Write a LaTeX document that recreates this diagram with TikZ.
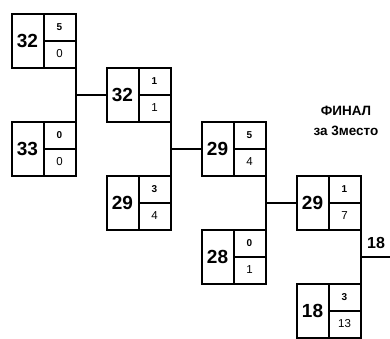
\documentclass[tikz,border=0pt]{standalone}
\usepackage{fontspec}
\setmainfont{Liberation Sans}
\usetikzlibrary{positioning, calc}

\tikzset{
  matchbox/.style={draw, line width=2pt, minimum width=64pt, minimum height=54pt, inner sep=0pt, outer sep=0pt},
  bracket/.style={line width=2pt},
  score/.style={font=\bfseries\fontsize{19}{19}\selectfont, inner sep=0pt},
  seed/.style={font=\bfseries\fontsize{10}{10}\selectfont, inner sep=0pt},
  pts/.style={font=\fontsize{11.5}{11.5}\selectfont, inner sep=0pt}
}

\begin{document}
\begin{tikzpicture}[x=1pt, y=-1pt]
  \useasboundingbox (0,0) rectangle (390,338);
  % boxes: name/x/y/score/upper/lower
  \foreach \nm/\x/\y/\sc/\up/\dn in {s1/43.5/40.5/32/5/0, s2/43.5/148.5/33/0/0,
      s3/138.5/94.5/32/1/1, s4/138.5/202.5/29/3/4,
      s5/233.5/148.5/29/5/4, s6/233.5/256.5/28/0/1,
      s7/328.5/202.5/29/1/7, s8/328.5/310.5/18/3/13} {
    \node[matchbox] (\nm) at (\x,\y) {};
    \draw[bracket] ($(\nm.north west)+(32,0)$) -- ($(\nm.south west)+(32,0)$);
    \draw[bracket] ($(\nm.west)+(32,0)$) -- (\nm.east);
    \node[score] (\nm-sc) at ($(\nm.west)+(16,0)$) {\sc};
    \node[seed] (\nm-up) at ($(\nm.east)+(-16,-13.5)$) {\up};
    \node[pts] (\nm-dn) at ($(\nm.east)+(-16,13.5)$) {\dn};
  }
  % connectors
  \foreach \a/\b/\c in {s1/s2/s3, s3/s4/s5, s5/s6/s7} {
    \draw[bracket] (\a.south east) -- (\b.north east);
    \draw[bracket] (\c.west) -- (\c.west -| \a.east);
  }
  \coordinate (final) at (390,256.5);
  \draw[bracket] (s7.south east) -- (s8.north east);
  \draw[bracket] (final -| s7.east) -- (final);
  \node[font=\bfseries\fontsize{16}{16}\selectfont, inner sep=0pt, anchor=base] (winner) at (376,248) {18};
  \node[font=\bfseries\fontsize{13.5}{20}\selectfont, align=center] (title) at (346,121) {ФИНАЛ\\за 3место};
\end{tikzpicture}
\end{document}
